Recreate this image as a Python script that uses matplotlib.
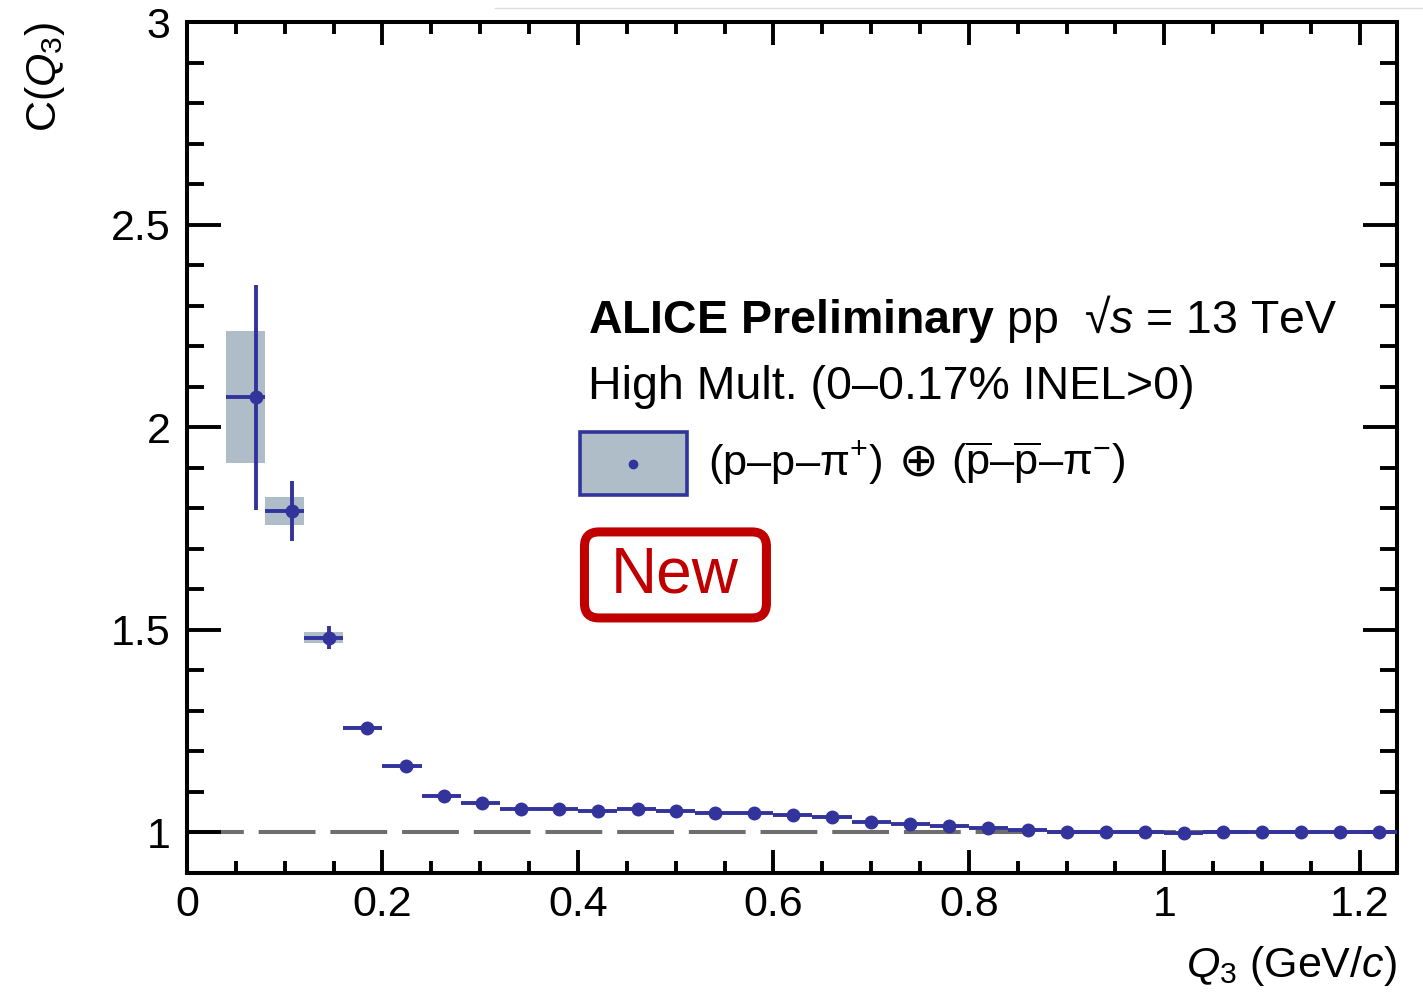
import numpy as np
import matplotlib
matplotlib.use("Agg")
import matplotlib.pyplot as plt
from matplotlib.patches import Rectangle, FancyBboxPatch
from matplotlib.lines import Line2D
from matplotlib.ticker import MultipleLocator, FuncFormatter

plt.rcParams['font.family'] = ['Liberation Sans', 'DejaVu Sans']
plt.rcParams['mathtext.fontset'] = 'custom'
plt.rcParams['mathtext.rm'] = 'Liberation Sans'
plt.rcParams['mathtext.it'] = 'Liberation Sans:italic'
plt.rcParams['mathtext.bf'] = 'Liberation Sans:bold'

# three-particle correlation function, pp 13 TeV high multiplicity
bin_lo = [0.04, 0.08, 0.12, 0.16, 0.20, 0.24, 0.28, 0.32, 0.36, 0.40,
          0.44, 0.48, 0.52, 0.56, 0.60, 0.64, 0.68, 0.72, 0.76, 0.80,
          0.84, 0.88, 0.92, 0.96, 1.00, 1.04, 1.08, 1.12, 1.16, 1.20]
bin_hi = [0.08, 0.12, 0.16, 0.20, 0.24, 0.28, 0.32, 0.36, 0.40, 0.44,
          0.48, 0.52, 0.56, 0.60, 0.64, 0.68, 0.72, 0.76, 0.80, 0.84,
          0.88, 0.92, 0.96, 1.00, 1.04, 1.08, 1.12, 1.16, 1.20, 1.24]
q3 = [0.071, 0.107, 0.145, 0.184, 0.224, 0.263, 0.302, 0.342, 0.381, 0.421,
      0.461, 0.500, 0.540, 0.580, 0.620, 0.660, 0.700, 0.740, 0.780, 0.820,
      0.860, 0.900, 0.940, 0.980, 1.020, 1.060, 1.100, 1.140, 1.180, 1.220]
c_q3 = [2.074, 1.793, 1.481, 1.259, 1.163, 1.091, 1.072, 1.059, 1.057, 1.052,
        1.057, 1.052, 1.049, 1.049, 1.042, 1.037, 1.027, 1.022, 1.017, 1.012,
        1.005, 1.002, 1.000, 1.000, 0.999, 1.000, 1.000, 1.000, 1.000, 1.002]
stat = [0.277, 0.074, 0.028, 0.004, 0.003, 0.003, 0.002, 0.002, 0.002, 0.002,
        0.002, 0.002, 0.002, 0.002, 0.002, 0.002, 0.002, 0.002, 0.002, 0.002,
        0.002, 0.002, 0.002, 0.002, 0.002, 0.002, 0.002, 0.002, 0.002, 0.002]
syst = [0.163, 0.035, 0.014, 0.004, 0.004, 0.003, 0.002, 0.002, 0.002, 0.002,
        0.002, 0.002, 0.002, 0.002, 0.002, 0.002, 0.002, 0.002, 0.002, 0.002,
        0.002, 0.002, 0.002, 0.002, 0.002, 0.002, 0.002, 0.002, 0.002, 0.002]

blue = '#33339c'
box_fill = '#aebdc8'
red = '#c00000'

fig = plt.figure(figsize=(14.23, 9.97), dpi=100)
ax = fig.add_axes([0.1314, 0.1244, 0.8503, 0.8535])

x = np.array(q3)
y = np.array(c_q3)
lo = np.array(bin_lo)
hi = np.array(bin_hi)

ax.axhline(1.0, color='#6e6e6e', lw=2.9, ls=(0, (14.1, 3.7)), zorder=1)

# systematic uncertainty boxes
for l, h, v, s in zip(lo, hi, y, syst):
    ax.add_patch(Rectangle((l, v - s), h - l, 2 * s, facecolor=box_fill,
                           edgecolor='none', zorder=2))

ax.errorbar(x, y, yerr=stat, xerr=[x - lo, hi - x], fmt='o', color=blue,
            ms=9, elinewidth=2.8, capsize=0, zorder=3)

ax.set_xlim(0, 1.238)
ax.set_ylim(0.9, 3.0)

ax.xaxis.set_major_locator(MultipleLocator(0.2))
ax.xaxis.set_minor_locator(MultipleLocator(0.05))
ax.yaxis.set_major_locator(MultipleLocator(0.5))
ax.yaxis.set_minor_locator(MultipleLocator(0.1))
fmt = FuncFormatter(lambda v, p: '%g' % round(v, 3))
ax.xaxis.set_major_formatter(fmt)
ax.yaxis.set_major_formatter(fmt)

for sp in ax.spines.values():
    sp.set_linewidth(2.9)
ax.tick_params(which='both', direction='in', top=True, right=True,
               width=2.8, labelsize=31)
ax.tick_params(axis='x', which='major', length=16.5, pad=9)
ax.tick_params(axis='x', which='minor', length=8.5)
ax.tick_params(axis='y', which='major', length=24.5, pad=12)
ax.tick_params(axis='y', which='minor', length=12.2)

ax.set_xlabel(r'$Q_{3}$ (GeV/$c$)', fontsize=31, ha='right')
ax.xaxis.set_label_coords(1.0, -0.084)
ax.set_ylabel(r'C($Q_{3}$)', fontsize=31, ha='right')
ax.yaxis.set_label_coords(-0.099, 1.0)

# header text
ax.text(0.3314, 0.6345, r'$\mathbf{ALICE\ Preliminary}$ pp  √$s$ = 13 TeV',
        transform=ax.transAxes, fontsize=33.5, va='baseline', ha='left')
ax.text(0.3314, 0.557, 'High Mult. (0–0.17% INEL>0)',
        transform=ax.transAxes, fontsize=33.5, va='baseline', ha='left')

# legend entry
ax.add_patch(Rectangle((0.3248, 0.444), 0.0884, 0.074, transform=ax.transAxes,
                       facecolor=box_fill, edgecolor=blue, lw=2.6, zorder=4))
ax.plot([0.3248 + 0.0442], [0.444 + 0.037], 'o', color=blue, ms=6,
        transform=ax.transAxes, zorder=5)
t1 = ax.text(0.4306, 0.4818, r'(p–p–$\mathrm{\pi}^{+}$)',
             transform=ax.transAxes, fontsize=31.3, va='center', ha='left')
t2 = ax.annotate('⊕', xy=(1, 0.5), xycoords=t1, xytext=(12, 0),
                 textcoords='offset points', fontsize=34, family='DejaVu Sans',
                 va='center', ha='left')
ax.annotate(r'($\overline{\mathrm{p}}$–$\overline{\mathrm{p}}$–$\mathrm{\pi}^{-}$)',
            xy=(1, 0.5), xycoords=t2, xytext=(9, 0), textcoords='offset points',
            fontsize=31.3, va='center', ha='left')

# "New" badge
asp = 1210 / 851
ax.add_patch(FancyBboxPatch((0.3285, 0.2997), 0.1504, 0.1011,
                            boxstyle='round,pad=0,rounding_size=0.012',
                            mutation_aspect=asp, transform=ax.transAxes,
                            facecolor='white', edgecolor=red, lw=6.5, zorder=4))
ax.text(0.4033, 0.350, 'New', transform=ax.transAxes, fontsize=46,
        color=red, ha='center', va='center', zorder=5)

fig.add_artist(Line2D([0.348, 1.0], [0.992, 0.992], transform=fig.transFigure,
                      color='#dddddd', lw=1))

fig.savefig('out.png', dpi=100)
